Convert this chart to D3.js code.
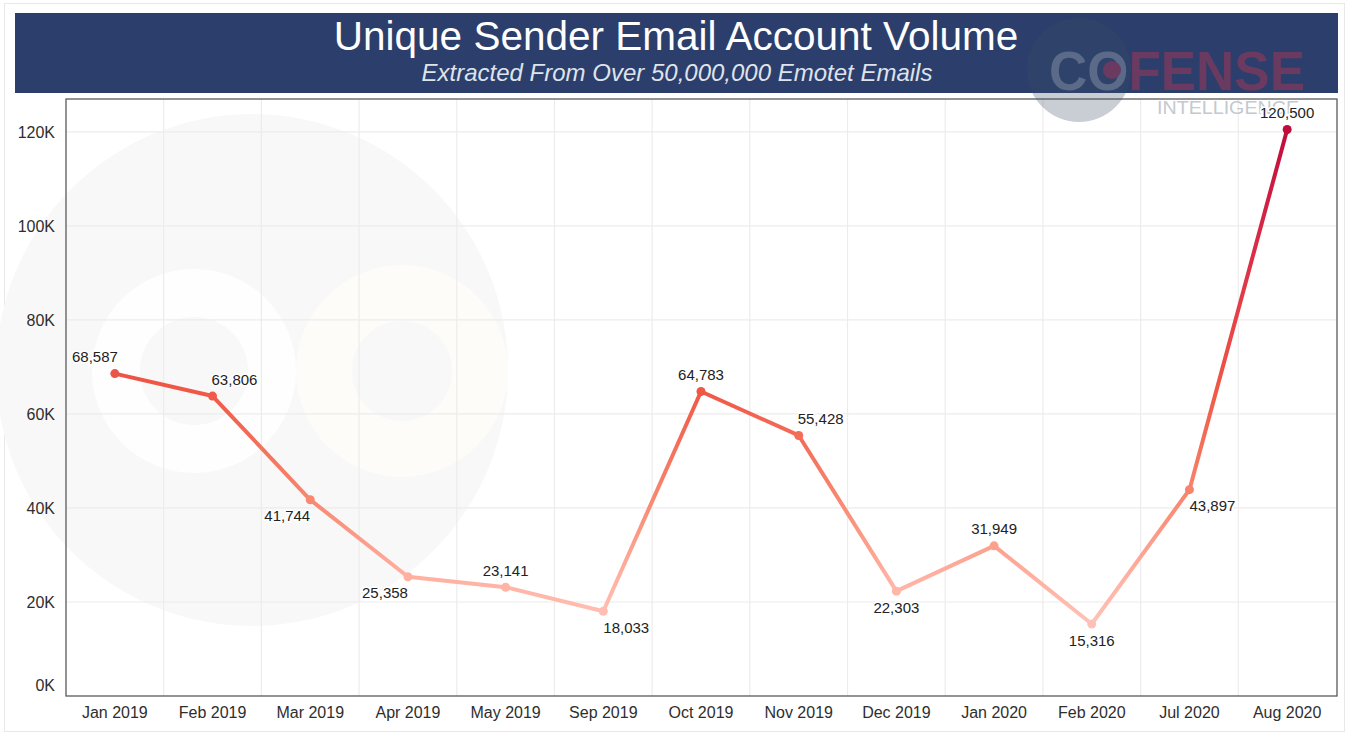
<!DOCTYPE html>
<html>
<head>
<meta charset="utf-8">
<script src="https://cdn.jsdelivr.net/npm/d3@7"></script>
<style>
  body { margin: 0; background: #fff; }
  svg { display: block; font-family: "Liberation Sans", Arial, sans-serif; }
  .tick text { fill: #2e2e2e; font-size: 16px; }
  .valueLabel { fill: #222; font-size: 15px; }
</style>
</head>
<body>
<div id="chart"></div>
<script>
// data
const months = ["Jan 2019", "Feb 2019", "Mar 2019", "Apr 2019", "May 2019", "Sep 2019",
    "Oct 2019", "Nov 2019", "Dec 2019", "Jan 2020", "Feb 2020", "Jul 2020", "Aug 2020"];
const senders = [68587, 63806, 41744, 25358, 23141, 18033, 64783, 55428, 22303, 31949, 15316, 43897, 120500];
const yTicks = [0, 20000, 40000, 60000, 80000, 100000, 120000];
const title = "Unique Sender Email Account Volume";
const subtitle = "Extracted From Over 50,000,000 Emotet Emails";

// where each value label sits around its point
const labelPos = ["nw", "ne", "sw", "sw", "n", "se", "n", "ne", "s", "n", "s", "se", "n"];

const W = 1348, H = 734;
const plot = {left: 66, top: 99, right: 1336, bottom: 696};

const svg = d3.select("#chart").append("svg")
    .attr("width", W)
    .attr("height", H);

// faint page frame
svg.append("rect")
    .attr("x", 4.5).attr("y", 3.5)
    .attr("width", W - 8).attr("height", H - 6)
    .attr("fill", "#fff")
    .attr("stroke", "#e8e8e8");

// very faint background logo (disc with two rings)
const wm = svg.append("g").attr("class", "watermark");
wm.append("circle")
    .attr("cx", 252).attr("cy", 370).attr("r", 256)
    .attr("fill", "#f8f8f8");
wm.append("circle")
    .attr("cx", 194).attr("cy", 371).attr("r", 78)
    .attr("fill", "none")
    .attr("stroke", "#fefefe")
    .attr("stroke-width", 48);
wm.append("circle")
    .attr("cx", 402).attr("cy", 371).attr("r", 78)
    .attr("fill", "none")
    .attr("stroke", "#fdfcf9")
    .attr("stroke-width", 56);

// scales
const x = d3.scaleBand()
    .domain(months)
    .range([plot.left, plot.right]);

const y = d3.scaleLinear()
    .domain([0, 127000])
    .range([plot.bottom, plot.top]);

const color = d3.scaleLinear()
    .domain([15000, 25000, 42000, 65000, 90000, 120500])
    .range(["#ffc3b8", "#ffb1a2", "#f8876f", "#f05846", "#de3449", "#c00c3d"]);

// grid
svg.append("g")
    .selectAll("line")
    .data(months.slice(1))
    .join("line")
    .attr("x1", d => x(d)).attr("x2", d => x(d))
    .attr("y1", plot.top).attr("y2", plot.bottom)
    .attr("stroke", "#ececec")
    .attr("stroke-width", 1.2);

svg.append("g")
    .selectAll("line")
    .data(yTicks.slice(1))
    .join("line")
    .attr("x1", plot.left).attr("x2", plot.right)
    .attr("y1", d => y(d)).attr("y2", d => y(d))
    .attr("stroke", "#ececec")
    .attr("stroke-width", 1.2);

// axes
const yAxis = svg.append("g")
    .attr("transform", "translate(" + plot.left + ",0)")
    .call(d3.axisLeft(y).tickValues(yTicks).tickSize(0).tickPadding(11)
        .tickFormat(d => (d / 1000) + "K"));
yAxis.select(".domain").remove();
yAxis.selectAll(".tick text")
    .attr("dy", d => d === 0 ? "-0.35em" : "0.32em");

const xAxis = svg.append("g")
    .attr("transform", "translate(0," + plot.bottom + ")")
    .call(d3.axisBottom(x).tickSize(0).tickPadding(11));
xAxis.select(".domain").remove();

// plot border
svg.append("rect")
    .attr("x", plot.left).attr("y", plot.top)
    .attr("width", plot.right - plot.left + 1)
    .attr("height", plot.bottom - plot.top)
    .attr("fill", "none")
    .attr("stroke", "#5a5a5a")
    .attr("stroke-width", 1.3);

// gradient along the value axis
const defs = svg.append("defs");
const grad = defs.append("linearGradient")
    .attr("id", "lineGrad")
    .attr("gradientUnits", "userSpaceOnUse")
    .attr("x1", 0).attr("x2", 0)
    .attr("y1", y(0)).attr("y2", y(127000));
grad.selectAll("stop")
    .data(d3.range(0, 127001, 5000))
    .join("stop")
    .attr("offset", d => d / 127000)
    .attr("stop-color", d => color(Math.max(d, 15000)));

defs.append("clipPath").attr("id", "plotClip")
  .append("rect")
    .attr("x", plot.left + 1).attr("y", plot.top)
    .attr("width", plot.right - plot.left)
    .attr("height", plot.bottom - plot.top);

const points = months.map((m, i) => ({m: m, v: senders[i], pos: labelPos[i]}));

const line = d3.line()
    .x(d => x(d.m) + x.bandwidth() / 2)
    .y(d => y(d.v));

svg.append("path")
    .datum(points)
    .attr("fill", "none")
    .attr("stroke", "url(#lineGrad)")
    .attr("stroke-width", 4)
    .attr("stroke-linejoin", "round")
    .attr("d", line);

svg.append("g")
    .selectAll("circle")
    .data(points)
    .join("circle")
    .attr("cx", d => x(d.m) + x.bandwidth() / 2)
    .attr("cy", d => y(d.v))
    .attr("r", 4.5)
    .attr("fill", d => color(d.v));

// title band
svg.append("rect")
    .attr("x", 15).attr("y", 13)
    .attr("width", 1323).attr("height", 80)
    .attr("fill", "#2c3e6b");

svg.append("text")
    .attr("x", 676).attr("y", 50)
    .attr("text-anchor", "middle")
    .attr("font-size", 40.5)
    .attr("fill", "#fff")
    .text(title);

svg.append("text")
    .attr("x", 677).attr("y", 81)
    .attr("text-anchor", "middle")
    .attr("font-size", 24)
    .attr("font-style", "italic")
    .attr("fill", "#dfe3eb")
    .text(subtitle);

// small logo, top right
const logo = svg.append("g").attr("class", "logo");
logo.append("circle")
    .attr("cx", 1079).attr("cy", 70).attr("r", 52)
    .attr("fill", "#3b4e66")
    .attr("opacity", 0.28);
const logoText = logo.append("text")
    .attr("x", 1049).attr("y", 90)
    .attr("font-size", 56)
    .attr("font-weight", "bold")
    .attr("textLength", 256)
    .attr("lengthAdjust", "spacingAndGlyphs");
logoText.append("tspan").attr("fill", "#5b6a88").text("CO");
logoText.append("tspan").attr("fill", "#6b3a60").text("FENSE");
logo.append("circle")
    .attr("cx", 1112).attr("cy", 70).attr("r", 9)
    .attr("fill", "#6b3a60");
logo.append("text")
    .attr("x", 1157).attr("y", 114)
    .attr("font-size", 18)
    .attr("fill", "#c3c9cf")
    .attr("textLength", 142)
    .attr("lengthAdjust", "spacingAndGlyphs")
    .text("INTELLIGENCE");

// value labels, drawn last so they sit over the logo text
const anchorOf = {n: "middle", s: "middle", ne: "start", se: "start", nw: "end", sw: "end"};
const dxOf = {n: 0, s: 0, ne: -1, se: 0, nw: 3, sw: 0};

svg.append("g")
    .attr("clip-path", "url(#plotClip)")
    .selectAll("text")
    .data(points)
    .join("text")
    .attr("class", "valueLabel")
    .attr("x", d => x(d.m) + x.bandwidth() / 2 + dxOf[d.pos])
    .attr("y", d => y(d.v) + (d.pos[0] === "n" ? -11.5 : 21.5))
    .attr("text-anchor", d => anchorOf[d.pos])
    .attr("stroke", "#fff")
    .attr("stroke-width", 3)
    .attr("paint-order", "stroke")
    .text(d => d3.format(",")(d.v));
</script>
</body>
</html>
